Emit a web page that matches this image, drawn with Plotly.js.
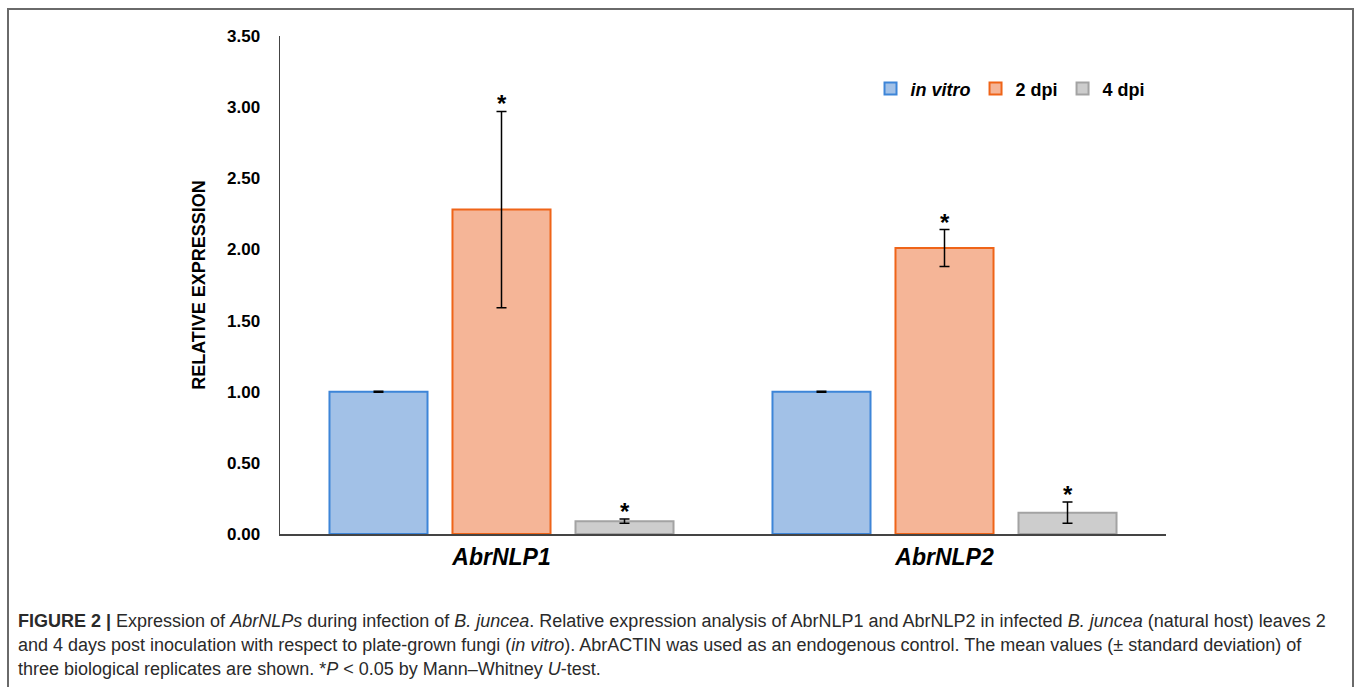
<!DOCTYPE html>
<html>
<head>
<meta charset="utf-8">
<script src="https://cdn.plot.ly/plotly-3.0.1.min.js"></script>
<style>html,body{margin:0;padding:0;background:#fff;}#chart{width:1360px;height:687px;}</style>
</head>
<body>
<div id="chart"></div>
<script>
// ---- data ----
var categories = ['AbrNLP1', 'AbrNLP2'];
var seriesNames = ['<i>in vitro</i>', '2 dpi', '4 dpi'];
var inVitro = [1.00, 1.00];
var inVitroErr = [0.004, 0.004];
var dpi2 = [2.28, 2.01];
var dpi2Err = [0.69, 0.13];
var dpi4 = [0.09, 0.15];
var dpi4Err = [0.015, 0.075];
var inVitroSig = [false, false];
var dpi2Sig = [true, true];
var dpi4Sig = [true, true];
var yTickVals = [0, 0.5, 1, 1.5, 2, 2.5, 3, 3.5];
var yTickText = ['0.00', '0.50', '1.00', '1.50', '2.00', '2.50', '3.00', '3.50'];
var captionLines = [
  '<b>FIGURE 2 |</b> Expression of <i>AbrNLPs</i> during infection of <i>B. juncea</i>. Relative expression analysis of AbrNLP1 and AbrNLP2 in infected <i>B. juncea</i> (natural host) leaves 2',
  'and 4 days post inoculation with respect to plate-grown fungi (<i>in vitro</i>). AbrACTIN was used as an endogenous control. The mean values (\u00b1 standard deviation) of',
  'three biological replicates are shown. *<i>P</i> &lt; 0.05 by Mann\u2013Whitney <i>U</i>-test.'
];

// ---- style ----
var FONT = 'Liberation Sans, Arial, sans-serif';
var fills = ['#a2c1e7', '#f5b597', '#cdcdcd'];
var borders = ['#3d85d8', '#ef6418', '#a3a3a3'];
var values = [inVitro, dpi2, dpi4];
var errs = [inVitroErr, dpi2Err, dpi4Err];
var sigs = [inVitroSig, dpi2Sig, dpi4Sig];
var BARGAP = 0.167, GROUPGAP = 0.203;

var traces = values.map(function (v, i) {
  return {
    type: 'bar', name: seriesNames[i], x: categories, y: v,
    marker: {color: fills[i], line: {color: borders[i], width: 2}},
    error_y: {type: 'data', array: errs[i], visible: true, color: '#000', thickness: 1.5, width: 5},
    hoverinfo: 'skip'
  };
});

var slot = (1 - BARGAP) / values.length;
var annotations = [];
values.forEach(function (v, i) {
  v.forEach(function (val, j) {
    if (sigs[i][j]) {
      annotations.push({
        xref: 'x', yref: 'y', x: j + (i - (values.length - 1) / 2) * slot, y: val + errs[i][j],
        text: '<b>*</b>', showarrow: false, yanchor: 'bottom', yshift: -8,
        font: {family: FONT, size: 24, color: '#000'}
      });
    }
  });
});
captionLines.forEach(function (t, k) {
  annotations.push({
    xref: 'paper', yref: 'paper', x: (16 - 280) / 886, y: (534 - (621 + 24 * k)) / 498,
    xanchor: 'left', yanchor: 'middle', showarrow: false, align: 'left',
    text: t, font: {family: FONT, size: 18, color: '#2a2a2a'}
  });
});

var layout = {
  width: 1360, height: 687,
  margin: {l: 280, r: 194, t: 36, b: 153},
  paper_bgcolor: '#fff', plot_bgcolor: '#fff',
  barmode: 'group', bargap: BARGAP, bargroupgap: GROUPGAP,
  showlegend: true,
  legend: {
    orientation: 'h', x: 0.6665, xanchor: 'left', y: 0.894, yanchor: 'middle',
    font: {family: FONT, size: 18, color: '#000', weight: 'bold'},
    itemwidth: 30, bgcolor: 'rgba(0,0,0,0)'
  },
  xaxis: {
    type: 'category', showline: true, linecolor: '#444', linewidth: 1.5,
    showgrid: false, zeroline: false, ticks: '', ticklabelstandoff: 2,
    tickfont: {family: FONT, size: 23, color: '#000', weight: 'bold', style: 'italic'}
  },
  yaxis: {
    range: [0, 3.5], tickvals: yTickVals, ticktext: yTickText,
    showline: true, linecolor: '#444', linewidth: 1.5,
    showgrid: false, zeroline: false, ticks: '', ticklabelstandoff: 15,
    tickfont: {family: FONT, size: 17, color: '#000', weight: 'bold'},
    title: {text: 'RELATIVE EXPRESSION', standoff: 16, font: {family: FONT, size: 18, color: '#000', weight: 'bold'}}
  },
  shapes: [{
    type: 'path', xref: 'paper', yref: 'paper',
    path: 'M' + ((8 - 280) / 886) + ',' + ((534 - 700) / 498) +
          ' L' + ((8 - 280) / 886) + ',' + ((534 - 9) / 498) +
          ' L' + ((1353 - 280) / 886) + ',' + ((534 - 9) / 498) +
          ' L' + ((1353 - 280) / 886) + ',' + ((534 - 700) / 498),
    line: {color: '#6a6a6a', width: 2}
  }],
  annotations: annotations
};

Plotly.newPlot('chart', traces, layout, {staticPlot: true});
</script>
</body>
</html>
